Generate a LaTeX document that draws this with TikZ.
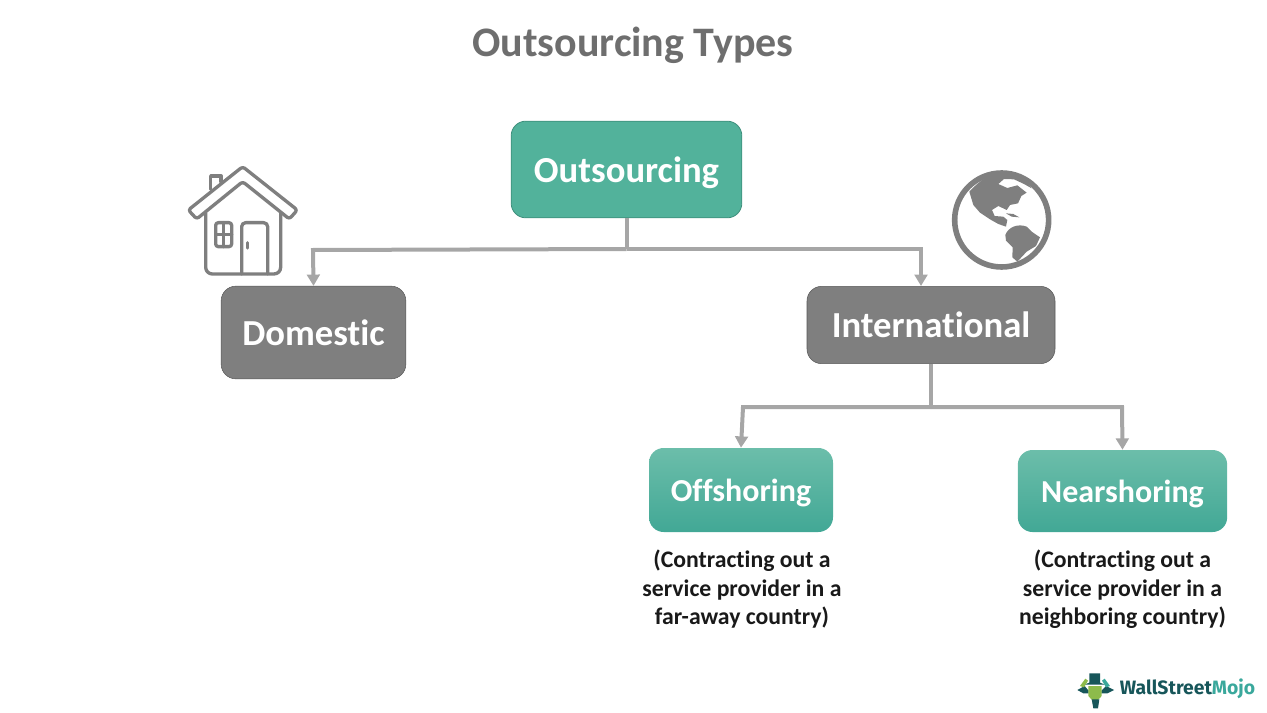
\documentclass[tikz,border=0pt]{standalone}
\usepackage{fontspec}
\setmainfont[Ligatures=NoCommon]{Carlito}
\newfontfamily\logofont{Fira Sans}
\usetikzlibrary{arrows.meta}
\definecolor{boxgreen}{HTML}{52B29B}
\definecolor{boxedge}{HTML}{3E8F7C}
\definecolor{boxgray}{HTML}{7F7F7F}
\definecolor{linegray}{HTML}{A6A6A6}
\definecolor{icongray}{HTML}{7F7F7F}
\definecolor{titlegray}{HTML}{6E6E6E}
\definecolor{logodark}{HTML}{17565A}
\definecolor{logolight}{HTML}{3AA89C}
\definecolor{logolime}{HTML}{8DBB4B}
\tikzset{
  box/.style={rounded corners=11pt, align=center, text=white, text depth=0pt, font=\bfseries\fontsize{27.5}{33}\selectfont, inner sep=0pt},
  mainbox/.style={box, fill=boxgreen, draw=boxedge, line width=0.6pt},
  graybox/.style={box, fill=boxgray, draw=gray!70!black, line width=0.4pt},
  shadebox/.style={box, top color=boxgreen!85!white, bottom color=boxgreen!80!teal, draw=none, font=\bfseries\fontsize{24}{29}\selectfont},
  caption/.style={align=center, text=black!90, font=\bfseries\fontsize{17.8}{21.4}\selectfont},
  link/.style={draw=linegray, line width=3pt},
  arrowlink/.style={link, -{Triangle[length=8.5pt,width=9.5pt]}},
  iconline/.style={draw=icongray, line width=2.5pt, line join=round, line cap=round}
}
\begin{document}
\begin{tikzpicture}[x=0.75pt,y=-0.75pt]
  \useasboundingbox (0,0) rectangle (1267,713);
  \node (title) at (633,42) [text=titlegray, text depth=0pt, font=\bfseries\fontsize{31.5}{38}\selectfont] {Outsourcing Types};
  \node (outsourcing) at (626.5,169.5) [mainbox, minimum width=173pt, minimum height=72.5pt] {Outsourcing};
  \node (domestic) at (313.5,332.5) [graybox, minimum width=138.5pt, minimum height=69.5pt] {Domestic};
  \node (international) at (931,325) [graybox, minimum width=186pt, minimum height=58pt] {International};
  \node (offshoring) at (741,490) [shadebox, minimum width=138pt, minimum height=63pt] {Offshoring};
  \node (nearshoring) at (1122.5,491) [shadebox, minimum width=157pt, minimum height=61.5pt] {Nearshoring};
  \node (offtext) at (742,589.5) [caption] {(Contracting out a\\service provider in a\\far-away country)};
  \node (neartext) at (1122.5,589.5) [caption] {(Contracting out a\\service provider in a\\neighboring country)};
  \coordinate (outjoin) at (626.5,249);
  \coordinate (interjoin) at (931,407);
  \coordinate (interend) at (921,286);
  \draw [link] (outsourcing.south) -- (outjoin);
  \draw [arrowlink] (outjoin) -- (313,250) -- (domestic.north);
  \draw [arrowlink] (outjoin) -- (921,249) -- (interend);
  \draw [link] (international.south) -- (interjoin);
  \draw [arrowlink] (interjoin) -- (743,407) -- (offshoring.north);
  \draw [arrowlink] (interjoin) -- (1122,407) -- (nearshoring.north);
  % house
  \begin{scope}[shift={(170,150)},scale=1/3]
    \draw [iconline] (122,118) -- (122,78) -- (153,78) -- (153,95);
    \draw [iconline, rounded corners=2pt] (55,180) -- (218,50) -- (382,180) -- (358,207) -- (218,95) -- (80,207) -- cycle;
    \draw [iconline, rounded corners=5pt] (107,190) -- (107,372) -- (332,372) -- (332,190);
    \draw [iconline, rounded corners=2pt] (137,218) rectangle (185,290);
    \draw [iconline] (161,218) -- (161,290) (137,254) -- (185,254);
    \draw [iconline, rounded corners=3pt] (215,372) -- (215,218) -- (293,218) -- (293,372);
    \draw [iconline] (233,278) -- (233,294);
  \end{scope}
  % globe
  \begin{scope}[shift={(930,160)},scale=1/3]
    \draw [icongray, line width=4.2pt] (215,180) circle (141);
    \fill [icongray] (118,95) .. controls (150,60) and (180,40) .. (215,38) .. controls (255,36) and (285,55) .. (305,85) -- (282,72) -- (252,58) -- (222,57) -- (205,72) -- (232,84) -- (262,76) -- (290,98) -- (274,108) -- (264,130) -- (240,135) -- (230,150) -- (205,138) -- (186,150) -- (194,168) -- (220,170) -- (232,180) -- (228,200) -- (205,192) -- (180,178) -- (150,158) -- (130,135) -- cycle;
    \fill [icongray] (228,160) -- (250,162) -- (268,172) -- (245,170) -- cycle;
    \fill [icongray] (226,225) .. controls (235,200) and (265,190) .. (290,200) -- (305,215) -- (330,232) -- (318,258) -- (290,275) -- (262,305) -- (247,292) -- (248,262) -- (228,242) -- cycle;
  \end{scope}
  % logo
  \begin{scope}[shift={(1060,660)},scale=1/3]
    \fill [logodark] (88,40) -- (120,40) -- (120,68) -- (135,74) -- (72,74) -- (88,68) -- cycle;
    \fill [logodark] (52,90) -- (74,78) -- (86,92) -- (86,100) -- (70,100) -- cycle;
    \fill [logodark] (162,90) -- (138,78) -- (124,92) -- (124,100) -- (142,100) -- cycle;
    \fill [logolime] (60,78) -- (76,56) -- (84,62) -- (72,82) -- cycle;
    \fill [logolight] (150,78) -- (134,56) -- (126,62) -- (138,82) -- cycle;
    \fill [logolime] (85,78) -- (125,78) -- (125,108) -- (112,122) -- (98,122) -- (85,108) -- cycle;
    \fill [logodark] (95,118) -- (118,118) -- (114,145) -- (100,145) -- cycle;
  \end{scope}
  \node (logotext) at (1187.5,689) [inner sep=0pt, font=\logofont\bfseries\fontsize{14.5}{18}\selectfont] {\textcolor{logodark}{WallStreet}\textcolor{logolight}{Mojo}};
\end{tikzpicture}
\end{document}
